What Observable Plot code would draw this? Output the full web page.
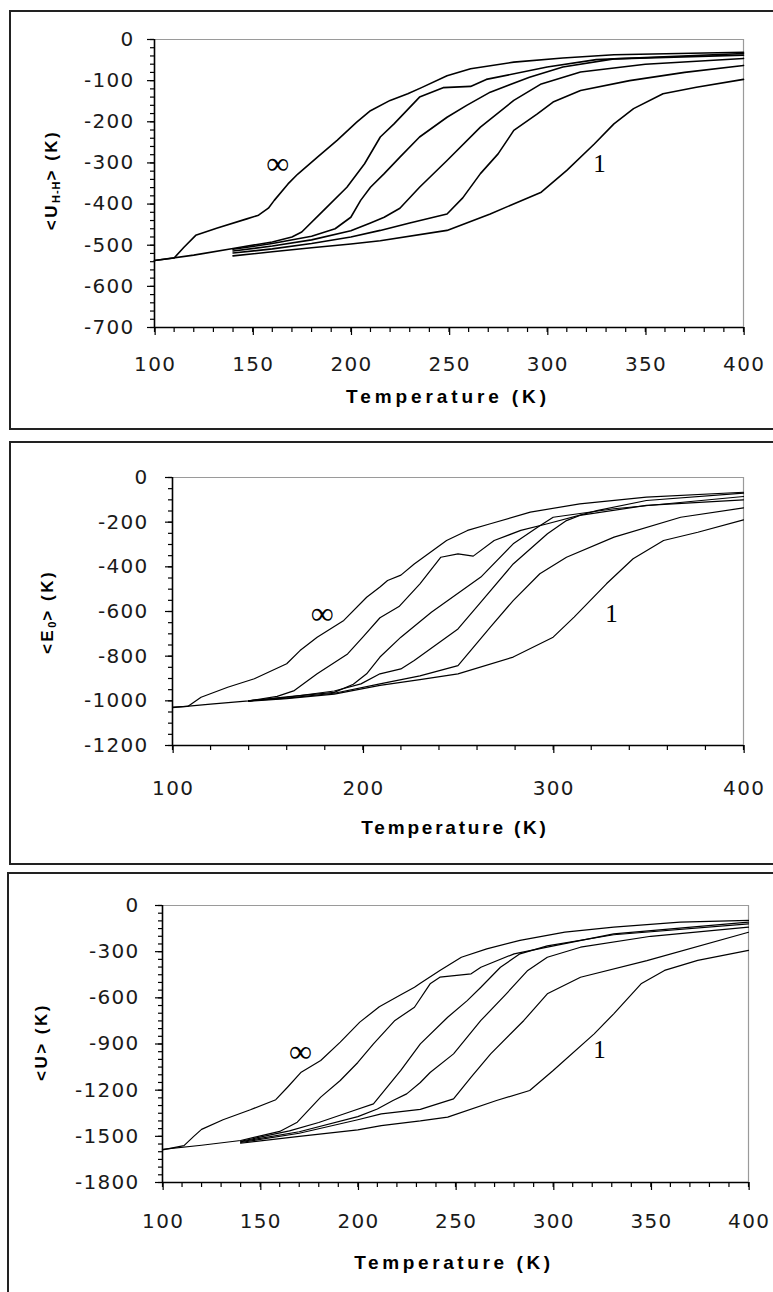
<!DOCTYPE html>
<html><head><meta charset="utf-8">
<script src="https://cdn.jsdelivr.net/npm/d3@7"></script>
<script src="https://cdn.jsdelivr.net/npm/@observablehq/plot@0.6"></script>
<style>
html,body{margin:0;padding:0;background:#fff;}
body{width:773px;height:1292px;overflow:hidden;position:relative;}
.box{position:absolute;border:2px solid #222;box-sizing:border-box;}
.plotwrap{position:absolute;left:0;}
.xt{position:absolute;font:bold 19px "Liberation Sans",Arial,sans-serif;white-space:nowrap;transform:translate(-50%,-50%);color:#000;}
.yt{position:absolute;font:bold 17px "Liberation Sans",Arial,sans-serif;white-space:nowrap;transform:translate(-50%,-50%) rotate(-90deg);color:#000;letter-spacing:2.5px;}
.yt sub{font-size:11px;vertical-align:-3px;letter-spacing:1px;}
</style></head><body>
<script>
// ---------- DATA (Temperature K, value K) ----------
const curveNames = ["∞", "c2", "c3", "c4", "c5", "1"];

// Panel 1: <U_H-H>
const uhh_inf = [[100,-537],[110,-531],[115,-505],[121,-476],[132,-458],[147,-436],[153,-427],[158,-410],[161,-391],[168,-351],[173,-327],[183,-286],[193,-245],[203,-201],[210,-173],[220,-148],[229,-132],[236,-117],[249,-88],[261,-71],[283,-55],[308,-45],[334,-37],[400,-31]];
const uhh_c2 = [[100,-537],[120,-524],[140,-508],[160,-492],[170,-480],[175,-468],[186,-416],[198,-359],[207,-302],[215,-237],[222,-205],[235,-140],[247,-117],[261,-114],[269,-97],[300,-67],[325,-49],[400,-34]];
const uhh_c3 = [[140,-510],[160,-496],[180,-478],[192,-460],[200,-432],[205,-391],[210,-359],[217,-326],[225,-286],[235,-237],[249,-189],[259,-160],[271,-128],[291,-92],[308,-67],[334,-47],[400,-38]];
const uhh_c4 = [[140,-514],[160,-502],[180,-487],[200,-465],[210,-446],[217,-432],[225,-410],[235,-359],[249,-294],[266,-213],[283,-148],[297,-108],[317,-79],[350,-60],[400,-46]];
const uhh_c5 = [[140,-519],[160,-509],[180,-496],[200,-480],[215,-464],[230,-446],[249,-424],[257,-385],[266,-326],[275,-278],[283,-221],[295,-181],[303,-152],[317,-124],[342,-100],[370,-80],[400,-63]];
const uhh_one = [[140,-526],[160,-516],[180,-506],[200,-497],[215,-489],[249,-464],[271,-424],[297,-371],[310,-318],[324,-254],[334,-205],[344,-168],[359,-132],[376,-116],[400,-97]];

// Panel 2: <E_0>
const e0_inf = [[100,-1028],[108,-1025],[115,-984],[129,-939],[143,-901],[160,-834],[167,-775],[176,-715],[190,-640],[202,-536],[209,-490],[213,-461],[220,-437],[227,-387],[244,-282],[255,-237],[267,-207],[288,-155],[314,-118],[349,-88],[400,-66]];
const e0_c2 = [[100,-1030],[120,-1015],[140,-1000],[155,-980],[164,-954],[176,-879],[192,-790],[200,-715],[209,-628],[219,-578],[230,-476],[241,-357],[250,-342],[258,-352],[269,-282],[283,-237],[297,-207],[323,-148],[349,-103],[400,-70]];
const e0_c3 = [[140,-1000],[160,-982],[185,-962],[195,-926],[202,-879],[209,-804],[220,-715],[236,-603],[262,-446],[279,-297],[292,-222],[300,-178],[332,-140],[400,-85]];
const e0_c4 = [[140,-1000],[160,-984],[185,-956],[199,-924],[209,-879],[220,-857],[227,-819],[250,-678],[262,-558],[279,-387],[297,-252],[307,-193],[314,-170],[349,-125],[400,-100]];
const e0_c5 = [[140,-1000],[160,-988],[185,-966],[209,-924],[230,-888],[250,-842],[267,-670],[279,-551],[293,-431],[307,-357],[332,-267],[367,-178],[400,-136]];
const e0_one = [[140,-1002],[160,-990],[185,-970],[209,-931],[230,-905],[250,-879],[279,-804],[300,-715],[311,-625],[328,-476],[342,-364],[358,-282],[376,-245],[400,-190]];

// Panel 3: <U>
const u_inf = [[100,-1588],[111,-1560],[116,-1500],[120,-1455],[131,-1392],[145,-1327],[158,-1262],[164,-1181],[171,-1083],[181,-1007],[191,-888],[201,-758],[211,-658],[222,-580],[229,-531],[232,-505],[242,-422],[253,-336],[266,-282],[283,-227],[306,-173],[331,-141],[365,-108],[400,-97]];
const u_c2 = [[100,-1585],[120,-1558],[140,-1527],[160,-1468],[169,-1408],[181,-1245],[191,-1137],[200,-1020],[208,-899],[219,-747],[229,-661],[237,-509],[242,-466],[258,-444],[263,-401],[280,-314],[297,-271],[331,-184],[400,-108]];
const u_c3 = [[140,-1532],[165,-1465],[180,-1410],[198,-1332],[208,-1289],[215,-1180],[222,-1072],[232,-899],[246,-726],[256,-618],[263,-531],[273,-401],[283,-314],[297,-262],[331,-190],[400,-119]];
const u_c4 = [[140,-1535],[170,-1470],[200,-1372],[210,-1322],[218,-1267],[225,-1224],[232,-1150],[237,-1085],[249,-964],[263,-747],[276,-574],[287,-422],[297,-336],[314,-271],[350,-200],[400,-141]];
const u_c5 = [[140,-1540],[170,-1480],[200,-1392],[212,-1354],[232,-1325],[249,-1257],[258,-1116],[268,-964],[285,-747],[297,-574],[314,-466],[348,-358],[400,-174]];
const u_one = [[140,-1545],[170,-1500],[200,-1458],[212,-1430],[232,-1400],[246,-1375],[271,-1267],[288,-1202],[300,-1072],[321,-834],[331,-704],[345,-509],[357,-422],[374,-357],[400,-292]];

// Curve labels [text, T, V]
const uhh_labels = [["∞",163,-302],["1",327,-302]];
const e0_labels = [["∞",179,-609],["1",331,-609]];
const u_labels = [["∞",171,-953],["1",324,-942]];

// Axis domains
const xDomain = [100, 400];
const uhh_yDomain = [-700, 0], e0_yDomain = [-1200, 0], u_yDomain = [-1800, 0];

// ---------- BUILD ----------
function rows(curves) {
  return curves.flatMap((c, i) => c.map(([T, V]) => ({T, V, curve: curveNames[i]})));
}

const tickFont = "'DejaVu Sans',Verdana,sans-serif";

const panels = [
  {box: {left: 9, top: 10, height: 420}, svgTop: 12, height: 415, mL: 154, mR: 30, mT: 27, mB: 100,
   yDomain: uhh_yDomain, yMajor: 100, yMinor: 20, xMajor: 50, xMinor: 10, yPad: 13, xPad: 21, sw: 1.6,
   data: rows([uhh_inf, uhh_c2, uhh_c3, uhh_c4, uhh_c5, uhh_one]), labels: uhh_labels,
   xt: {x: 448, y: 397, ls: 3.9}, yt: {x: 52, y: 180, html: "&lt;U<sub>H-H</sub>&gt; (K)"}},
  {box: {left: 9, top: 441, height: 424}, svgTop: 444, height: 418, mL: 172, mR: 30, mT: 33, mB: 117,
   yDomain: e0_yDomain, yMajor: 200, yMinor: 50, xMajor: 100, xMinor: 20, yPad: 17, xPad: 27, sw: 1.2,
   data: rows([e0_inf, e0_c2, e0_c3, e0_c4, e0_c5, e0_one]), labels: e0_labels,
   xt: {x: 455, y: 828, ls: 2.8}, yt: {x: 48, y: 612, html: "&lt;E<sub>0</sub>&gt; (K)"}},
  {box: {left: 7, top: 872, height: 440}, svgTop: 875, height: 417, mL: 162, mR: 25, mT: 30, mB: 110,
   yDomain: u_yDomain, yMajor: 300, yMinor: 50, xMajor: 50, xMinor: 10, yPad: 16, xPad: 23, sw: 1.2,
   data: rows([u_inf, u_c2, u_c3, u_c4, u_c5, u_one]), labels: u_labels,
   xt: {x: 454, y: 1263, ls: 3.6}, yt: {x: 42, y: 1042, html: "&lt;U&gt; (K)"}}
];

for (const p of panels) {
  const box = document.createElement("div");
  box.className = "box";
  Object.assign(box.style, {left: p.box.left + "px", top: p.box.top + "px", width: "800px", height: p.box.height + "px"});
  document.body.appendChild(box);

  const [y0, y1] = p.yDomain;
  const chart = Plot.plot({
    width: 773, height: p.height,
    marginLeft: p.mL, marginRight: p.mR, marginTop: p.mT, marginBottom: p.mB,
    x: {domain: xDomain},
    y: {domain: p.yDomain},
    style: "background:transparent;color:#000;font-family:'DejaVu Sans',Verdana,sans-serif;font-size:20px;letter-spacing:1.3px;overflow:visible;",
    marks: [
      Plot.ruleY([y1], {stroke: "#9a9a9a", strokeWidth: 1.2}),
      Plot.ruleX([xDomain[1]], {stroke: "#9a9a9a", strokeWidth: 1.2}),
      Plot.line(p.data, {x: "T", y: "V", z: "curve", stroke: "#000", strokeWidth: p.sw, strokeLinejoin: "round"}),
      Plot.axisY(d3.range(y0, y1 + 1, p.yMinor), {anchor: "left", tickSize: 4, tickFormat: () => "", label: null, strokeWidth: 1.2}),
      Plot.axisY(d3.range(y0, y1 + 1, p.yMajor), {anchor: "left", tickSize: 7, tickPadding: p.yPad, tickFormat: d => String(d), label: null, strokeWidth: 1.2, fontSize: 20, fontFamily: tickFont, fill: "#1a1a1a"}),
      Plot.axisX(d3.range(xDomain[0], xDomain[1] + 1, p.xMinor), {anchor: "bottom", tickSize: 5, tickFormat: () => "", label: null, strokeWidth: 1.2}),
      Plot.axisX(d3.range(xDomain[0], xDomain[1] + 1, p.xMajor), {anchor: "bottom", tickSize: 8, tickPadding: p.xPad, tickFormat: d => String(d), label: null, strokeWidth: 1.2, dx: 0.65, fontSize: 20, fontFamily: tickFont, fill: "#1a1a1a"}),
      Plot.ruleX([xDomain[0]], {stroke: "#000", strokeWidth: 1.6}),
      Plot.ruleY([y0], {stroke: "#000", strokeWidth: 1.6}),
      Plot.text(p.labels.filter(d => d[0] === "∞"), {x: d => d[1], y: d => d[2], text: d => d[0], fontSize: 32, fontFamily: "'Liberation Serif','Times New Roman',serif", fill: "#000"}),
      Plot.text(p.labels.filter(d => d[0] !== "∞"), {x: d => d[1], y: d => d[2], text: d => d[0], fontSize: 25, fontFamily: "'Liberation Serif','Times New Roman',serif", fill: "#000"})
    ]
  });
  const wrap = document.createElement("div");
  wrap.className = "plotwrap";
  wrap.style.top = p.svgTop + "px";
  wrap.appendChild(chart);
  document.body.appendChild(wrap);

  const xt = document.createElement("div");
  xt.className = "xt";
  xt.textContent = "Temperature (K)";
  Object.assign(xt.style, {left: p.xt.x + "px", top: p.xt.y + "px", letterSpacing: p.xt.ls + "px"});
  document.body.appendChild(xt);

  const yt = document.createElement("div");
  yt.className = "yt";
  yt.innerHTML = p.yt.html;
  Object.assign(yt.style, {left: p.yt.x + "px", top: p.yt.y + "px"});
  document.body.appendChild(yt);
}
</script>
</body></html>
